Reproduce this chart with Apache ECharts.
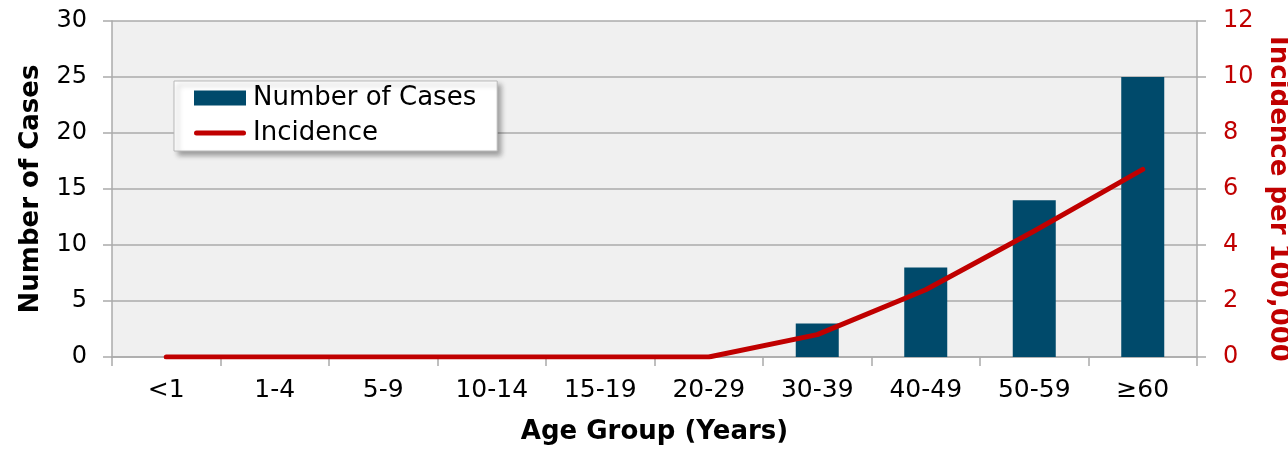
<!DOCTYPE html>
<html>
<head>
<meta charset="utf-8">
<script src="https://cdn.jsdelivr.net/npm/echarts@6/dist/echarts.min.js"></script>
<style>
  html, body { margin: 0; padding: 0; background: #ffffff; overflow: hidden; }
  #chart { width: 1288px; height: 450px; }
</style>
</head>
<body>
<div id="chart"></div>
<script>
// Age groups along the horizontal axis
const ageGroups = ['<1', '1-4', '5-9', '10-14', '15-19', '20-29', '30-39', '40-49', '50-59', '≥60'];
// Number of cases per age group (left axis)
const caseCounts = [0, 0, 0, 0, 0, 0, 3, 8, 14, 25];
// Incidence per 100,000 per age group (right axis)
const incidenceRates = [0, 0, 0, 0, 0, 0, 0.8, 2.4, 4.5, 6.7];

const FONT = 'DejaVu Sans';
const RED = '#C00000';
const NAVY = '#004A6B';
const GRID_GRAY = '#ABABAB';

// Thick rounded stroke used as the legend key of the incidence line
const LINE_KEY = 'path://M0,0 M52,15 M2.5,5 L49.5,5 A2.5,2.5 0 0 1 49.5,10 L2.5,10 A2.5,2.5 0 0 1 2.5,5 Z';

const chart = echarts.init(document.getElementById('chart'), null, { renderer: 'canvas' });

chart.setOption({
  animation: false,
  textStyle: { fontFamily: FONT },
  grid: {
    left: 112, right: 91, top: 21, bottom: 93,
    containLabel: false,
    outerBoundsMode: 'none',
    show: true, backgroundColor: '#F0F0F0', borderWidth: 0
  },
  legend: {
    orient: 'vertical',
    left: 174, top: 81,
    padding: [4, 21, 5, 20],
    itemGap: 9,
    itemWidth: 52, itemHeight: 15,
    backgroundColor: '#ffffff',
    borderColor: '#B8B8B8', borderWidth: 1,
    shadowColor: 'rgba(0,0,0,0.35)', shadowBlur: 5, shadowOffsetX: 4, shadowOffsetY: 4,
    textStyle: { fontFamily: FONT, fontSize: 26, color: '#000000', padding: [0, 0, 0, 2] },
    data: [
      { name: 'Number of Cases', icon: 'rect' },
      { name: 'Incidence', icon: LINE_KEY }
    ]
  },
  xAxis: {
    type: 'category',
    data: ageGroups,
    name: 'Age Group (Years)',
    nameLocation: 'middle',
    nameGap: 62,
    nameTextStyle: { fontFamily: FONT, fontSize: 26, fontWeight: 'bold', color: '#000000' },
    axisLine: { show: true, lineStyle: { color: GRID_GRAY, width: 1.5 } },
    axisTick: { show: true, length: 9, alignWithLabel: false, lineStyle: { color: GRID_GRAY, width: 1.5 } },
    axisLabel: { fontFamily: FONT, fontSize: 25, color: '#000000', margin: 21 },
    splitLine: { show: false }
  },
  yAxis: [
    {
      type: 'value',
      min: 0, max: 30, interval: 5,
      name: 'Number of Cases',
      nameLocation: 'middle',
      nameGap: 68,
      nameRotate: 90,
      nameTextStyle: { fontFamily: FONT, fontSize: 26, fontWeight: 'bold', color: '#000000' },
      axisLine: { show: true, lineStyle: { color: GRID_GRAY, width: 1.5 } },
      axisTick: { show: true, length: 9, lineStyle: { color: GRID_GRAY, width: 1.5 } },
      axisLabel: { fontFamily: FONT, fontSize: 24, color: '#000000', margin: 25 },
      splitLine: { show: true, lineStyle: { color: GRID_GRAY, width: 1.5 } }
    },
    {
      type: 'value',
      position: 'right',
      min: 0, max: 12, interval: 2,
      name: 'Incidence per 100,000',
      nameLocation: 'middle',
      nameGap: 68,
      nameRotate: -90,
      nameTextStyle: {
        fontFamily: FONT, fontSize: 26, fontWeight: 'bold', color: RED,
        padding: [0, 0, 0, 20]
      },
      axisLine: { show: true, lineStyle: { color: GRID_GRAY, width: 1.5 } },
      axisTick: { show: true, length: 9, lineStyle: { color: GRID_GRAY, width: 1.5 } },
      axisLabel: { fontFamily: FONT, fontSize: 24, color: RED, margin: 26 },
      splitLine: { show: false }
    }
  ],
  series: [
    {
      name: 'Number of Cases',
      type: 'bar',
      yAxisIndex: 0,
      data: caseCounts,
      barWidth: 43,
      itemStyle: { color: NAVY, borderWidth: 0 }
    },
    {
      name: 'Incidence',
      type: 'line',
      yAxisIndex: 1,
      data: incidenceRates,
      symbol: 'none',
      showSymbol: false,
      lineStyle: { color: RED, width: 5, cap: 'round', join: 'round' },
      itemStyle: { color: RED },
      z: 5
    }
  ]
});
</script>
</body>
</html>
